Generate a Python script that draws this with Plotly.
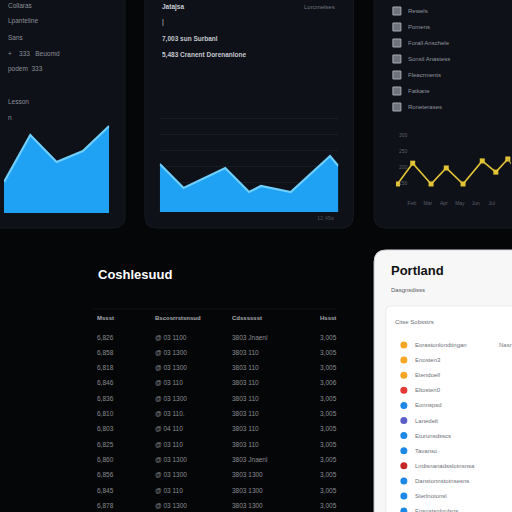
import plotly.graph_objects as go

# ---------------- data ----------------
area1_x = [0, 1, 2, 3, 4]
area1_y = [31, 78, 51, 62, 87]

area2_x = [0, 2, 5.5, 7.5, 8.5, 11, 14.3, 15]
area2_y = [48, 24, 44, 20, 26, 20, 56, 46]

line3_x = [0.1, 1.05, 2.2, 3.15, 4.2, 5.4, 6.25, 7.0, 7.3]
line3_y = [147, 212, 147, 197, 147, 219, 184, 225, 203]
line3_xticks = ["Jan", "Feb", "Mar", "Apr", "May", "Jun", "Jul", "Aug"]
line3_yticks = [150, 200, 250, 300]

panel1_lines = ["Collaras", "Lpanteline", "Sans", "+    333   Beuomd", "podem  333", "", "Lesson", "n"]
panel2_title = "Jatajsa"
panel2_right = "Lorcmelses"
panel2_lines = ["7,003 sun Surbanl", "5,483 Cranent Dorenanlone"]
panel2_foot = "12,45a"

legend3_labels = ["Rewels", "Pomens", "Forall Anschele", "Sonsil Anastess",
                  "Fleacrments", "Fatkane", "Roneterases"]

table_title = "Coshlesuud"
table_header = ["Mssst", "Bscosrrstsnsud", "Cdsssssst", "Hssst"]
table_col1 = ["6,826", "6,858", "6,818", "6,846", "6,836", "6,810", "6,803", "6,825", "6,860", "6,856", "6,845", "6,878"]
table_col2 = ["@ 03 1100", "@ 03 1300", "@ 03 1300", "@ 03 110", "@ 03 1300", "@ 03 110.", "@ 04 110", "@ 03 110", "@ 03 1300", "@ 03 1300", "@ 03 110", "@ 03 1300"]
table_col3 = ["3803 Jnaenl", "3803 110", "3803 110", "3803 110", "3803 110", "3803 110", "3803 110", "3803 110", "3803 Jnaenl", "3803 1300", "3803 1300", "3803 1300"]
table_col4 = ["3,005", "3,005", "3,005", "3,006", "3,005", "3,005", "3,005", "3,005", "3,005", "3,005", "3,005", "3,005"]

card_title = "Portland"
card_subtitle = "Dasgnsdisss"
card_box_title = "Citse Sobsstrs"
card_right = "Nasr"
card_labels = ["Eorastonlondtingan", "Enosten3", "Etendoell", "Eltosten0", "Eonnspsd", "Lanedelt", "Eturunsdsscs",
               "Tavanso", "Lndisnanadsslotnsnsa", "Danstonnstotnsesns", "Sterlnotonsl", "Ensnstsnlnolsns"]
card_colors = ["#f5a623", "#f5a623", "#f5a623", "#e53935", "#1e88e5", "#5b5fc7",
               "#1e88e5", "#1e88e5", "#c62828", "#1e88e5", "#1e88e5", "#1e88e5"]

# ---------------- helpers ----------------
W = 512.0


def px(x):
    return x / W


def py(y):
    return 1 - y / W


def rrect(x0, y0, x1, y1, r):
    pts = [
        f"M {px(x0 + r)},{py(y0)}",
        f"L {px(x1 - r)},{py(y0)}",
        f"Q {px(x1)},{py(y0)} {px(x1)},{py(y0 + r)}",
        f"L {px(x1)},{py(y1 - r)}",
        f"Q {px(x1)},{py(y1)} {px(x1 - r)},{py(y1)}",
        f"L {px(x0 + r)},{py(y1)}",
        f"Q {px(x0)},{py(y1)} {px(x0)},{py(y1 - r)}",
        f"L {px(x0)},{py(y0 + r)}",
        f"Q {px(x0)},{py(y0)} {px(x0 + r)},{py(y0)}",
        "Z",
    ]
    return " ".join(pts)


FONT = "Liberation Sans, Arial, sans-serif"

fig = go.Figure()

fig.add_trace(go.Scatter(x=area1_x, y=area1_y, mode="lines", fill="tozeroy",
                         line=dict(color="#6fcfff", width=2.2), fillcolor="#1fa2f4",
                         xaxis="x", yaxis="y", hoverinfo="skip"))
fig.add_trace(go.Scatter(x=area2_x, y=area2_y, mode="lines", fill="tozeroy",
                         line=dict(color="#6fcfff", width=2.2), fillcolor="#1fa2f4",
                         xaxis="x2", yaxis="y2", hoverinfo="skip"))
fig.add_trace(go.Scatter(x=line3_x[:-1], y=line3_y[:-1], mode="lines+markers",
                         line=dict(color="#e3c437", width=1.6),
                         marker=dict(color="#e3c437", size=5, symbol="square"),
                         xaxis="x3", yaxis="y3", hoverinfo="skip"))
fig.add_trace(go.Scatter(x=line3_x[-2:], y=line3_y[-2:], mode="lines",
                         line=dict(color="#b9a346", width=1.2),
                         xaxis="x3", yaxis="y3", hoverinfo="skip"))
fig.add_trace(go.Scatter(x=[0] * len(legend3_labels), y=list(range(len(legend3_labels))),
                         mode="markers",
                         marker=dict(color="#6f747c", size=8, symbol="square",
                                     line=dict(color="#a7abb2", width=1)),
                         xaxis="x4", yaxis="y4", hoverinfo="skip"))
fig.add_trace(go.Scatter(x=[0] * len(card_labels), y=list(range(len(card_labels))),
                         mode="markers", marker=dict(color=card_colors, size=7),
                         xaxis="x5", yaxis="y5", hoverinfo="skip"))

shapes = []
panel_fill = "#0e1117"
shapes.append(dict(type="path", path=rrect(-20, -20, 122, 228, 12), xref="paper", yref="paper",
                   fillcolor=panel_fill, line=dict(color="#161a21", width=1), layer="below"))
shapes.append(dict(type="path", path=rrect(142, -20, 352, 228, 12), xref="paper", yref="paper",
                   fillcolor=panel_fill, line=dict(color="#161a21", width=1), layer="below"))
shapes.append(dict(type="path", path=rrect(373, -20, 540, 228, 12), xref="paper", yref="paper",
                   fillcolor=panel_fill, line=dict(color="#161a21", width=1), layer="below"))
shapes.append(dict(type="line", x0=px(90), x1=px(336), y0=py(309), y1=py(309), xref="paper", yref="paper",
                   line=dict(color="#111317", width=1), layer="below"))
shapes.append(dict(type="path", path=rrect(373, 250, 540, 540, 12), xref="paper", yref="paper",
                   fillcolor="#f7f7f8", line=dict(color="#d9d9dc", width=1), layer="below"))
shapes.append(dict(type="path", path=rrect(385, 306, 540, 540, 4), xref="paper", yref="paper",
                   fillcolor="#ffffff", line=dict(color="#ececee", width=1), layer="below"))

ann = []


def text(x, y, s, size=7, color="#9aa0a8", bold=False, anchor="left"):
    ann.append(dict(x=px(x), y=py(y), xref="paper", yref="paper", text=f"<b>{s}</b>" if bold else s,
                    showarrow=False, xanchor=anchor, yanchor="middle",
                    font=dict(size=size, color=color, family=FONT)))


for i, s in enumerate(panel1_lines):
    if s:
        text(2, 5 + 16 * i, s, size=6.5, color="#8a9098")

text(157, 7, panel2_title, size=6.5, color="#c9cdd3", bold=True)
text(336, 7, panel2_right, size=6, color="#6f757d", anchor="right")
text(157, 22, "|", size=7, color="#c9cdd3")
for i, s in enumerate(panel2_lines):
    text(157, 39 + 16 * i, s, size=6.5, color="#c4c8ce", bold=True)
text(336, 218, panel2_foot, size=5.5, color="#4a5058", anchor="right")

for i, s in enumerate(legend3_labels):
    text(405, 11 + 16 * i, s, size=6, color="#8f959d")

text(93, 274, table_title, size=13, color="#ffffff", bold=True)
col_x = [92, 150, 228, 316]
for j, h in enumerate(table_header):
    text(col_x[j], 318, h, size=6, color="#a9acb0", bold=True)
for i in range(len(table_col1)):
    yy = 337 + 15.3 * i
    for j, col in enumerate([table_col1, table_col2, table_col3, table_col4]):
        text(col_x[j], yy, col[i], size=6.5, color="#8a8c90")

text(388, 270, card_title, size=13, color="#111111", bold=True)
text(388, 290, card_subtitle, size=6, color="#555a60")
text(392, 322, card_box_title, size=6, color="#6a6f75")
text(497, 345, card_right, size=6, color="#777b80")
for i, s in enumerate(card_labels):
    text(412, 345 + 15.1 * i, s, size=6, color="#6d7278")

hidden = dict(visible=False, showgrid=False, zeroline=False)
row_bottom = (512 - 345) / 15.1

fig.update_layout(
    width=512, height=512,
    margin=dict(l=0, r=0, t=0, b=0),
    paper_bgcolor="#050608", plot_bgcolor="rgba(0,0,0,0)",
    showlegend=False,
    shapes=shapes, annotations=ann,
    xaxis=dict(domain=[0, px(106)], range=[0, 4], **hidden),
    yaxis=dict(domain=[py(213), py(113)], range=[0, 100], **hidden),
    xaxis2=dict(domain=[px(157), px(337)], range=[0, 15], anchor="y2", **hidden),
    yaxis2=dict(domain=[py(212), py(112)], range=[0, 100], anchor="x2", visible=True,
                showgrid=True, gridcolor="#181c23", gridwidth=1, tick0=14, dtick=16,
                showticklabels=False, zeroline=False, showline=False, ticks=""),
    xaxis3=dict(domain=[px(395), px(511)], range=[0, 7.2], anchor="y3", visible=True,
                showgrid=False, zeroline=False, showline=False,
                tickmode="array", tickvals=list(range(len(line3_xticks))), ticktext=line3_xticks,
                tickfont=dict(size=5, color="#5a6068", family=FONT), ticks=""),
    yaxis3=dict(domain=[py(199), py(119)], range=[100, 350], anchor="x3", visible=True,
                showgrid=False, zeroline=False, showline=False,
                tickmode="array", tickvals=line3_yticks, ticklabelposition="inside",
                tickfont=dict(size=5, color="#5a6068", family=FONT), ticks=""),
    xaxis4=dict(domain=[px(390), px(402)], range=[-1, 1], anchor="y4", **hidden),
    yaxis4=dict(domain=[py(115), py(3)], range=[6.5, -0.5], anchor="x4", **hidden),
    xaxis5=dict(domain=[px(397), px(409)], range=[-1, 1], anchor="y5", **hidden),
    yaxis5=dict(domain=[0, py(345 - 15.1 * 0.5)], range=[row_bottom, -0.5], anchor="x5", **hidden),
)

fig.write_html(
    "out.html",
    config={"displayModeBar": False},
    post_script="document.body.style.margin='0';document.body.style.background='#050608';"
                "document.body.style.overflow='hidden';",
)
